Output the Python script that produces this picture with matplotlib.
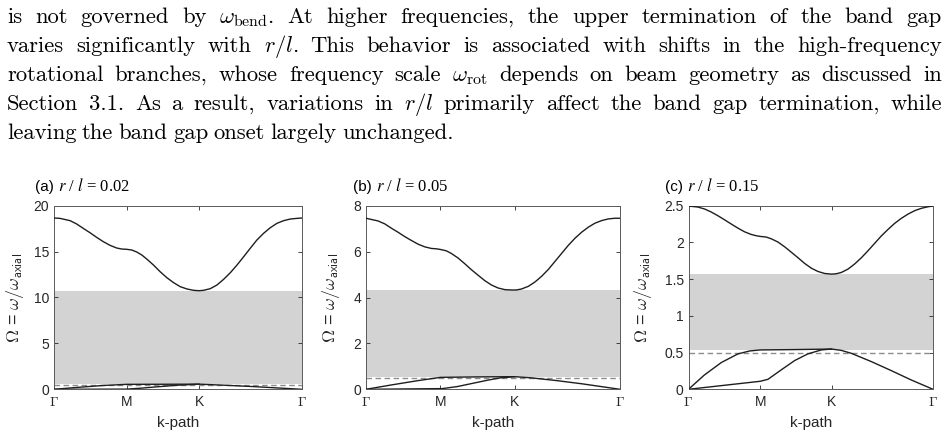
import numpy as np
import matplotlib.pyplot as plt

plt.rcParams['font.family'] = ['Liberation Sans', 'DejaVu Sans']
plt.rcParams['mathtext.fontset'] = 'cm'

W, H = 948, 440

# paragraph above the figure (one entry per printed line)
paragraph = [
    r'is not governed by $\omega_{\mathrm{bend}}$.  At higher frequencies, the upper termination of the band gap',
    r'varies significantly with $r/l$.  This behavior is associated with shifts in the high-frequency',
    r'rotational branches, whose frequency scale $\omega_{\mathrm{rot}}$ depends on beam geometry as discussed in',
    r'Section 3.1.  As a result, variations in $r/l$ primarily affect the band gap termination, while',
    r'leaving the band gap onset largely unchanged.',
]
line_y = [23, 52, 81, 110, 139]

tags = ['(a)', '(b)', '(c)']
ratios = ['0.02', '0.05', '0.15']
ymax = [20, 8, 2.5]
yticks = [[0, 5, 10, 15, 20], [0, 2, 4, 6, 8], [0, 0.5, 1, 1.5, 2, 2.5]]
ytick_labels = [['0', '5', '10', '15', '20'], ['0', '2', '4', '6', '8'],
                ['0', '0.5', '1', '1.5', '2', '2.5']]
path_pos = [0, 0.293, 0.585, 1.0]
path_labels = [r'$\Gamma$', 'M', 'K', r'$\Gamma$']

# upper (rotational) branch
k_up_a = [0, .024, .065, .092, .118, .145, .172, .199, .226, .253, .273, .293, .314, .334, .354, .374,
          .401, .428, .455, .482, .509, .536, .563, .585, .603, .630, .657, .684, .711, .738, .765,
          .791, .818, .845, .872, .899, .926, .953, .980, 1]
w_up_a = [18.66, 18.62, 18.37, 18.00, 17.53, 17.06, 16.55, 16.08, 15.68, 15.39, 15.28, 15.25, 15.17,
          14.95, 14.63, 14.19, 13.54, 12.81, 12.16, 11.62, 11.18, 10.93, 10.78, 10.74, 10.78, 10.96,
          11.36, 11.98, 12.70, 13.54, 14.45, 15.35, 16.26, 16.99, 17.60, 18.08, 18.37, 18.55, 18.62, 18.66]
k_up_b = [0, .047, .074, .100, .126, .152, .179, .205, .231, .258, .277, .293, .316, .336, .363, .389,
          .415, .442, .468, .494, .520, .547, .573, .592, .612, .639, .665, .691, .718, .744, .770,
          .796, .823, .849, .875, .901, .928, .954, .980, 1]
w_up_b = [7.453, 7.337, 7.207, 7.019, 6.845, 6.657, 6.483, 6.324, 6.208, 6.136, 6.122, 6.093, 6.035,
          5.919, 5.716, 5.470, 5.210, 4.964, 4.732, 4.544, 4.414, 4.342, 4.327, 4.327, 4.370, 4.486,
          4.674, 4.920, 5.224, 5.572, 5.919, 6.266, 6.585, 6.845, 7.062, 7.236, 7.352, 7.424, 7.453, 7.453]
k_up_c = [0, .038, .066, .093, .120, .147, .175, .202, .229, .256, .277, .293, .318, .338, .366, .393,
          .420, .448, .475, .502, .529, .557, .585, .604, .625, .652, .679, .707, .734, .761, .788,
          .816, .843, .870, .898, .925, .952, .980, 1]
w_up_c = [2.495, 2.482, 2.455, 2.414, 2.364, 2.309, 2.250, 2.195, 2.145, 2.109, 2.091, 2.082, 2.073,
          2.050, 2.005, 1.941, 1.868, 1.791, 1.714, 1.650, 1.605, 1.577, 1.568, 1.573, 1.591, 1.636,
          1.705, 1.791, 1.886, 1.986, 2.086, 2.177, 2.259, 2.327, 2.386, 2.432, 2.464, 2.486, 2.495]

# lower branches
k_lo1_a = [0, .1, .2, .293, .45, .585, .7, .8, .9, 1]
w_lo1_a = [0, .22, .42, .54, .55, .56, .43, .30, .15, 0]
k_lo2_a = [0, .293, .35, .42, .5, .585]
w_lo2_a = [0, .02, .12, .28, .45, .56]
k_lo1_b = [0, .1, .2, .293, .44, .585, .65, .75, .85, 1]
w_lo1_b = [0, .19, .37, .52, .54, .55, .50, .38, .24, 0]
k_lo2_b = [0, .30, .36, .42, .48, .53, .585]
w_lo2_b = [0, .03, .12, .26, .40, .50, .55]
k_lo1_c = [0, .065, .134, .202, .250, .293, .434, .585, .625, .666, .748, .829, .911, 1]
w_lo1_c = [0, .195, .364, .482, .522, .536, .541, .548, .53, .49, .377, .255, .127, 0]
k_lo2_c = [0, .293, .325, .379, .434, .488, .543, .585]
w_lo2_c = [0, .109, .136, .264, .391, .482, .536, .548]

gap_lo = [0.60, 0.55, 0.54]
gap_hi = [10.74, 4.31, 1.57]
w_ref = 0.5

upper = [(k_up_a, w_up_a), (k_up_b, w_up_b), (k_up_c, w_up_c)]
lower = [[(k_lo1_a, w_lo1_a), (k_lo2_a, w_lo2_a)],
         [(k_lo1_b, w_lo1_b), (k_lo2_b, w_lo2_b)],
         [(k_lo1_c, w_lo1_c), (k_lo2_c, w_lo2_c)]]

# axes boxes in pixels: left, right
ax_lr = [(54, 302), (366, 620), (688.5, 933)]
ax_top, ax_bot = 205.7, 389.3
tag_x = [35, 353, 665]
ylab_x = [15, 331, 643]

fig = plt.figure(figsize=(W / 100, H / 100), dpi=100)
rend = fig.canvas.get_renderer()

# justified paragraph
x0, x1 = 7, 942
for i, line in enumerate(paragraph):
    words = [w for w in line.split(' ') if w != '']
    objs = [fig.text(0, 1 - line_y[i] / H, w, fontsize=16.3, family='cmr10',
                     va='baseline', ha='left') for w in words]
    widths = [o.get_window_extent(rend).width for o in objs]
    if i < len(paragraph) - 1:
        gap = (x1 - x0 - sum(widths)) / (len(words) - 1)
    else:
        gap = 5.4
    x = x0
    for o, wd in zip(objs, widths):
        o.set_x(x / W)
        x += wd + gap

for p in range(3):
    l, r = ax_lr[p]
    ax = fig.add_axes([l / W, (H - ax_bot) / H, (r - l) / W, (ax_bot - ax_top) / H])
    ax.fill_between([0, 1], gap_lo[p], gap_hi[p], color='#d3d3d3', lw=0, zorder=1)
    ax.axhline(w_ref, color='#8c8c8c', lw=1.0, ls=(0, (4, 2.5)), zorder=2)
    k, w = upper[p]
    ax.plot(k, w, color='#1e1e1e', lw=1.0, zorder=3)
    for k, w in lower[p]:
        ax.plot(k, w, color='#1e1e1e', lw=1.0, zorder=3)
    ax.set_xlim(0, 1)
    ax.set_ylim(0, ymax[p])
    ax.set_xticks(path_pos)
    ax.set_xticklabels(path_labels)
    ax.set_yticks(yticks[p])
    ax.set_yticklabels(ytick_labels[p])
    ax.tick_params(direction='in', length=3, width=0.6, top=True, right=True,
                   labelsize=10, colors='#262626', pad=3.5)
    ax.tick_params(axis='x', pad=4)
    for s in ax.spines.values():
        s.set_color('#5a5a5a')
        s.set_linewidth(0.7)
    ax.set_xlabel('k-path', fontsize=11, color='#262626')
    ax.xaxis.set_label_coords(0.5 * (l + r) / W, 1 - 423 / H, transform=fig.transFigure)
    ax.xaxis.label.set_va('center')
    ax.set_ylabel(r'$\Omega$ = $\omega/\omega_{\mathsf{axial}}$', fontsize=13, color='#262626')
    ax.yaxis.set_label_coords(ylab_x[p] / W, 1 - 0.5 * (ax_top + ax_bot) / H, transform=fig.transFigure)
    ax.yaxis.label.set_va('center')

    t1 = fig.text(tag_x[p] / W, 1 - 191 / H, tags[p] + ' ', fontsize=11, va='baseline')
    tw = t1.get_window_extent(rend).width
    fig.text((tag_x[p] + tw) / W, 1 - 191 / H, r'$r$ / $l$ = ' + ratios[p], fontsize=12,
             family='Liberation Serif', math_fontfamily='stix', va='baseline')

fig.savefig('out.png', dpi=100)
